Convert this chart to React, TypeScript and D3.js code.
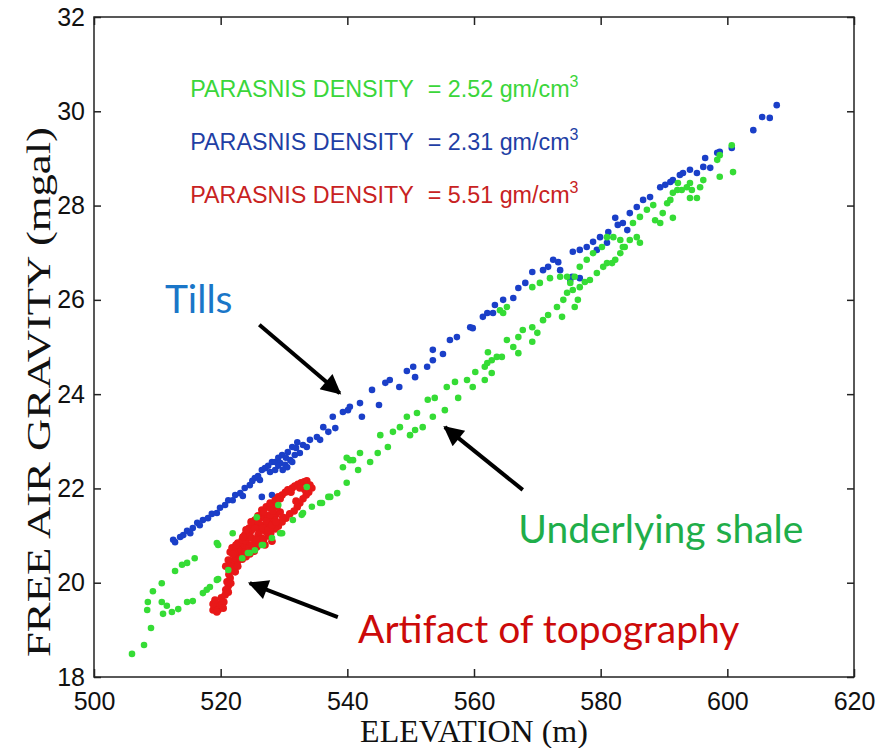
import React, { useRef, useEffect } from "react";
import { select, scaleLinear, axisBottom, axisLeft, axisTop, axisRight } from "d3";

// axis ticks
const xTicks = [500, 520, 540, 560, 580, 600, 620];
const yTicks = [18, 20, 22, 24, 26, 28, 30, 32];

// [elevation (m), free air gravity (mgal)]
const tills = [
  [512.5, 20.91], [512.8, 20.86], [513.6, 20.97], [514.1, 21.01], [514.7, 21.1], [515.2, 21.05],
  [515.6, 21.16], [516.3, 21.27], [516.7, 21.22], [517.2, 21.33], [518.0, 21.37], [518.6, 21.46],
  [519.4, 21.48], [519.9, 21.59], [520.7, 21.65], [521.2, 21.75], [521.9, 21.75], [522.3, 21.86],
  [523.1, 21.9], [523.5, 21.84], [523.8, 22.01], [524.6, 22.07], [525.0, 22.16], [525.4, 22.22],
  [525.9, 22.26], [526.2, 22.18], [526.5, 22.39], [527.0, 22.43], [527.5, 22.48], [527.8, 22.35],
  [528.1, 22.56], [528.6, 22.56], [529.1, 22.65], [529.4, 22.54], [529.7, 22.71], [530.2, 22.5],
  [530.5, 22.45], [530.6, 22.77], [531.0, 22.6], [531.3, 22.88], [531.7, 22.71], [532.1, 22.98],
  [532.5, 22.75], [533.0, 22.92], [533.6, 22.88], [534.1, 23.03], [535.2, 23.09], [535.7, 23.03],
  [536.2, 23.3], [537.0, 23.2], [537.7, 23.52], [538.1, 23.28], [539.3, 23.62], [540.1, 23.66],
  [540.4, 23.73], [542.0, 23.81], [542.3, 23.52], [543.9, 24.09], [545.0, 23.77], [546.0, 24.24],
  [546.7, 24.3], [548.2, 24.15], [549.4, 24.49], [550.4, 24.58], [550.7, 24.36], [552.6, 24.58],
  [553.5, 24.72], [553.5, 24.94], [555.1, 24.85], [556.2, 25.15], [557.3, 25.21], [559.4, 25.42],
  [559.8, 25.4], [561.4, 25.64], [562.1, 25.72], [563.0, 25.72], [563.3, 25.89], [564.6, 26.0],
  [566.2, 26.04], [567.0, 26.25], [568.1, 26.36], [569.2, 26.59], [570.9, 26.63], [571.7, 26.7],
  [572.5, 26.85], [573.3, 26.8], [573.6, 26.63], [575.2, 26.42], [575.5, 26.49], [575.6, 27.02],
  [576.7, 26.46], [576.7, 27.06], [577.8, 27.12], [578.8, 27.23], [579.4, 27.06], [579.9, 27.33],
  [581.0, 27.21], [581.2, 27.44], [582.3, 27.74], [582.7, 27.59], [583.5, 27.63], [584.2, 27.48],
  [584.6, 27.84], [585.7, 27.97], [586.7, 28.12], [587.8, 28.18], [589.4, 28.39], [590.2, 28.44],
  [591.0, 28.5], [591.4, 28.54], [592.5, 28.65], [593.0, 28.69], [594.1, 28.76], [595.2, 28.69],
  [596.2, 28.82], [596.5, 29.01], [597.3, 28.8], [598.4, 29.12], [598.8, 29.14], [600.7, 29.22],
  [604.1, 29.6], [605.5, 29.88], [606.7, 29.86], [607.8, 30.13],
  [529.8, 22.39], [530.3, 22.65], [529.1, 22.48], [531.3, 22.56], [531.9, 22.86], [528.6, 22.39],
  [526.5, 21.82], [528.1, 21.86],
];

const shale = [
  [506.0, 18.49], [507.9, 18.68], [509.0, 19.04], [508.4, 19.42], [508.5, 19.59], [509.3, 19.82],
  [510.7, 19.99], [510.7, 19.59], [511.5, 19.51], [510.9, 19.34], [512.3, 19.38], [513.3, 19.44],
  [514.7, 19.59], [515.6, 19.61], [517.2, 19.78], [518.3, 19.91], [519.6, 20.08], [521.2, 20.27],
  [512.8, 20.25], [513.9, 20.38], [514.7, 20.42], [515.9, 20.52], [519.4, 20.84], [521.9, 21.05],
  [523.4, 20.52], [524.3, 20.63], [525.4, 20.69], [526.7, 20.8], [528.1, 20.95], [529.7, 21.05],
  [531.4, 21.33], [533.0, 21.48], [534.4, 21.61], [535.7, 21.69], [537.3, 21.82], [538.4, 21.9],
  [539.9, 22.12], [539.3, 22.45], [539.9, 22.65], [540.4, 22.6], [541.7, 22.39], [542.0, 22.75],
  [543.6, 22.56], [544.8, 22.75], [545.2, 23.13], [546.4, 22.88], [547.2, 23.2], [548.3, 23.3],
  [549.4, 23.52], [551.0, 23.6], [549.9, 23.13], [550.7, 23.24], [551.9, 23.3], [552.7, 23.88],
  [553.8, 23.92], [553.5, 23.52], [555.4, 23.66], [555.7, 24.15], [557.0, 24.26], [557.5, 23.92],
  [558.9, 24.3], [559.8, 24.15], [560.2, 24.47], [561.7, 24.3], [562.1, 24.66], [562.2, 24.89],
  [562.8, 24.72], [563.6, 24.79], [561.7, 24.58], [562.8, 24.45], [564.4, 24.79], [565.2, 25.15],
  [566.2, 25.0], [567.0, 25.21], [567.7, 25.36], [569.2, 25.42], [570.0, 25.3], [569.2, 25.11],
  [567.0, 24.87], [570.9, 25.57], [571.7, 25.68], [573.1, 25.85], [573.9, 25.64], [574.1, 26.0],
  [574.7, 26.15], [575.6, 26.21], [575.9, 25.85], [576.4, 26.0], [576.7, 26.27], [575.2, 26.36],
  [574.7, 26.49], [573.6, 26.49], [572.0, 26.46], [570.4, 26.36], [569.2, 26.27], [565.2, 25.85],
  [564.1, 25.78], [564.6, 25.72], [577.5, 26.38], [578.3, 26.42], [579.4, 26.57], [580.4, 26.7],
  [581.0, 26.78], [581.8, 26.78], [582.3, 26.85], [583.1, 26.99], [583.8, 27.12], [584.6, 27.27],
  [583.1, 27.27], [582.0, 27.33], [581.0, 27.33], [580.2, 27.12], [578.8, 26.99], [577.8, 26.85],
  [576.7, 26.7], [575.9, 26.49],
  [533.6, 22.03], [529.1, 21.65], [525.7, 21.39], [526.5, 20.8], [529.4, 21.05], [524.6, 20.63],
  [519.6, 20.8], [517.8, 19.85], [519.4, 20.06], [540.9, 22.6], [537.0, 21.82], [536.0, 21.69],
  [532.8, 21.44],
  [583.5, 27.12], [585.1, 27.63], [586.2, 27.76], [587.3, 27.91], [588.3, 28.01], [588.6, 27.69],
  [589.4, 27.63], [589.8, 27.84], [590.5, 28.05], [591.0, 28.12], [591.4, 28.27], [592.1, 28.33],
  [592.2, 28.48], [592.8, 28.33], [593.6, 28.39], [594.1, 28.48], [594.4, 28.33], [594.1, 28.16],
  [595.2, 28.16], [595.7, 28.39], [596.2, 28.54], [598.4, 28.97], [598.8, 29.07], [598.8, 28.61],
  [600.7, 29.28], [600.9, 28.71], [591.4, 27.74], [586.2, 27.21], [585.7, 27.33],
];

const artifact = [
  [518.8, 19.42], [519.3, 19.48], [519.7, 19.55], [518.8, 19.55], [519.6, 19.42], [520.2, 19.51],
  [520.5, 19.59], [520.1, 19.68], [520.7, 19.74], [520.8, 19.85], [521.2, 19.93], [521.0, 20.02],
  [521.5, 20.1], [521.3, 20.18], [521.8, 20.27], [521.9, 20.35], [521.6, 20.44], [522.1, 20.48],
  [522.4, 20.57], [521.5, 20.65], [521.8, 20.74], [522.4, 20.69], [523.1, 20.76], [523.5, 20.82],
  [522.7, 20.84], [523.4, 20.91], [524.0, 20.88], [524.3, 20.97], [523.8, 21.01], [524.6, 21.05],
  [524.9, 21.12], [524.5, 21.16], [525.1, 21.22], [525.6, 21.18], [525.4, 21.33], [525.9, 21.29],
  [526.2, 21.37], [526.5, 21.44], [527.0, 21.39], [526.5, 21.54], [527.2, 21.61], [527.8, 21.59],
  [528.4, 21.61], [527.8, 21.69], [528.6, 21.75], [529.1, 21.82], [529.7, 21.86], [530.2, 21.92],
  [530.6, 21.97], [531.3, 22.01], [531.7, 22.05], [532.2, 22.09], [532.7, 22.12], [533.2, 22.14],
  [533.6, 22.16], [534.1, 22.07], [534.4, 22.01], [533.9, 21.92], [533.5, 21.86], [533.0, 21.78],
  [532.5, 21.69], [532.1, 21.61], [531.6, 21.52], [530.9, 21.46], [530.3, 21.37], [529.7, 21.29],
  [529.1, 21.2], [528.6, 21.14], [527.9, 21.05], [527.5, 20.99], [526.8, 20.91], [526.2, 20.84],
  [525.7, 20.76], [525.3, 20.67], [524.6, 20.61], [524.0, 20.55], [523.4, 20.5], [522.7, 20.46],
  [525.9, 21.01], [526.5, 21.12], [527.0, 21.18], [527.5, 21.25], [528.1, 21.33], [528.7, 21.44],
  [529.4, 21.5], [527.2, 21.08], [526.5, 20.95], [527.8, 21.16], [525.4, 20.91], [524.6, 20.8],
  [523.7, 20.69], [526.5, 21.22], [527.5, 21.39], [528.6, 21.33], [524.9, 20.95], [525.9, 20.8],
  [527.0, 20.8], [528.1, 20.88], [524.2, 20.74], [523.1, 20.65], [522.4, 20.52], [521.2, 20.48],
  [520.8, 20.35], [522.2, 20.63],
  [519.1, 19.63], [520.4, 19.46], [519.4, 19.38], [521.2, 19.8], [521.6, 19.99], [522.3, 20.23],
  [522.7, 20.35], [523.1, 20.52], [523.8, 20.65], [524.5, 20.74], [524.9, 20.8], [525.6, 20.91],
  [526.1, 21.08], [526.7, 21.16], [527.2, 21.31], [527.8, 21.44], [528.3, 21.52], [528.9, 21.61],
  [529.4, 21.78], [525.4, 21.16], [524.8, 21.29], [525.9, 21.42], [526.8, 21.5], [524.0, 21.12],
  [523.5, 20.97], [522.4, 20.8], [521.9, 20.61], [527.5, 21.12], [528.1, 21.22], [528.7, 21.29],
  [529.8, 21.39], [531.9, 21.73], [533.3, 21.97], [532.5, 22.01], [531.1, 21.92],
];

// legend rows: name, density
const legendNames = ["PARASNIS DENSITY", "PARASNIS DENSITY", "PARASNIS DENSITY"];
const legendDensity = ["2.52", "2.31", "5.51"];

const W = 886;
const H = 748;
const M = { left: 94, right: 32, top: 17, bottom: 71 };

const GREEN = "#35dc35";
const BLUE = "#1a3fc8";
const RED = "#e81818";
const legendColors = ["#3ad63a", "#1f3fa5", "#c82222"];

function App() {
  const svgRef = useRef(null);

  useEffect(() => {
    const svg = select(svgRef.current);
    svg.selectAll("*").remove();

    const x = scaleLinear().domain([500, 620]).range([M.left, W - M.right]);
    const y = scaleLinear().domain([18, 32]).range([H - M.bottom, M.top]);

    const defs = svg.append("defs");
    defs.append("marker")
      .attr("id", "head")
      .attr("viewBox", "0 0 10 10")
      .attr("refX", 9)
      .attr("refY", 5)
      .attr("markerUnits", "userSpaceOnUse")
      .attr("markerWidth", 24)
      .attr("markerHeight", 20)
      .attr("orient", "auto")
      .append("path")
      .attr("d", "M0,0 L10,5 L0,10 z")
      .attr("fill", "#000");

    const tickFont = "'Liberation Sans Narrow', 'Arial Narrow', 'Liberation Sans', Arial, sans-serif";

    // axes
    const bottom = svg.append("g")
      .attr("transform", `translate(0,${H - M.bottom})`)
      .call(axisBottom(x).tickValues(xTicks).tickSizeInner(-8).tickSizeOuter(0).tickPadding(15));
    const left = svg.append("g")
      .attr("transform", `translate(${M.left},0)`)
      .call(axisLeft(y).tickValues(yTicks).tickSizeInner(-7).tickSizeOuter(0).tickPadding(9));
    svg.append("g")
      .attr("transform", `translate(0,${M.top})`)
      .call(axisTop(x).tickValues(xTicks).tickSizeInner(-8).tickSizeOuter(0).tickFormat(() => ""));
    svg.append("g")
      .attr("transform", `translate(${W - M.right},0)`)
      .call(axisRight(y).tickValues(yTicks).tickSizeInner(-7).tickSizeOuter(0).tickFormat(() => ""));

    svg.selectAll(".domain").remove();
    svg.selectAll(".tick line").attr("stroke", "#222").attr("stroke-width", 1.5);
    [bottom, left].forEach(a => a.selectAll("text")
      .attr("font-family", tickFont)
      .attr("font-size", 25)
      .attr("fill", "#111"));

    svg.append("rect")
      .attr("x", M.left)
      .attr("y", M.top)
      .attr("width", W - M.left - M.right)
      .attr("height", H - M.top - M.bottom)
      .attr("fill", "none")
      .attr("stroke", "#222")
      .attr("stroke-width", 1.5);

    // points
    const drawDots = (data, color, r) => {
      svg.append("g")
        .selectAll("circle")
        .data(data)
        .join("circle")
        .attr("cx", d => x(d[0]))
        .attr("cy", d => y(d[1]))
        .attr("r", r)
        .attr("fill", color);
    };
    drawDots(tills, BLUE, 3.3);
    drawDots(artifact, RED, 3.8);
    drawDots(shale, GREEN, 3.3);

    // legend
    const legendX = 515.2;
    const valueX = 552.7;
    const legendY = [30.3, 29.18, 28.05];
    legendNames.forEach((name, i) => {
      const row = svg.append("g")
        .attr("font-family", "'Liberation Sans', Arial, sans-serif")
        .attr("font-size", 23.3)
        .attr("fill", legendColors[i]);
      row.append("text").attr("x", x(legendX)).attr("y", y(legendY[i])).text(name);
      const t = row.append("text").attr("x", x(valueX)).attr("y", y(legendY[i]));
      t.append("tspan").text(`= ${legendDensity[i]} gm/cm`);
      t.append("tspan").attr("dy", -10).attr("font-size", 16).text("3");
    });

    // axis titles
    svg.append("text")
      .attr("x", (M.left + W - M.right) / 2)
      .attr("y", H - 6)
      .attr("text-anchor", "middle")
      .attr("font-family", "'Liberation Serif', 'Times New Roman', serif")
      .attr("font-size", 32)
      .attr("fill", "#111")
      .text("ELEVATION (m)");
    svg.append("text")
      .attr("transform", `translate(50,${(M.top + H - M.bottom) / 2 + 45}) rotate(-90)`)
      .attr("text-anchor", "middle")
      .attr("font-family", "'Liberation Serif', 'Times New Roman', serif")
      .attr("font-size", 34)
      .attr("textLength", 530)
      .attr("lengthAdjust", "spacingAndGlyphs")
      .attr("fill", "#111")
      .text("FREE AIR GRAVITY (mgal)");

    // annotations
    const noteFont = "Lato, 'Open Sans', sans-serif";
    const notes = [
      { text: "Tills", at: [511.2, 25.72], color: "#1a76c8" },
      { text: "Underlying shale", at: [567.0, 20.84], color: "#1fae4a" },
      { text: "Artifact of topography", at: [541.7, 18.72], color: "#cc0a0a" },
    ];
    notes.forEach(n => {
      svg.append("text")
        .attr("x", x(n.at[0]))
        .attr("y", y(n.at[1]))
        .attr("font-family", noteFont)
        .attr("font-size", 39)
        .attr("fill", n.color)
        .text(n.text);
    });

    const arrows = [
      [[526.1, 25.47], [538.8, 24.02]],
      [[567.7, 21.97], [555.4, 23.3]],
      [[538.5, 19.27], [524.6, 19.99]],
    ];
    arrows.forEach(([a, b]) => {
      svg.append("line")
        .attr("x1", x(a[0])).attr("y1", y(a[1]))
        .attr("x2", x(b[0])).attr("y2", y(b[1]))
        .attr("stroke", "#000")
        .attr("stroke-width", 4)
        .attr("marker-end", "url(#head)");
    });
  }, []);

  return (
    <svg
      ref={svgRef}
      width={W}
      height={H}
      style={{ position: "absolute", left: 0, top: 0, background: "#fff" }}
    />
  );
}

export default App;
